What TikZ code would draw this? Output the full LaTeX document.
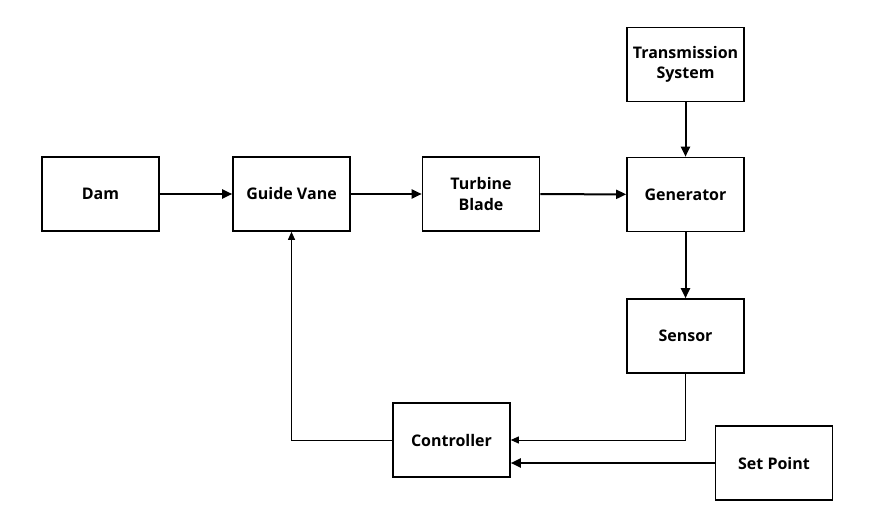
\documentclass[tikz,border=0pt]{standalone}
\usepackage{fontspec}
\setmainfont{Open Sans}
\usetikzlibrary{arrows.meta}
\begin{document}
\begin{tikzpicture}[x=1pt,y=-1pt,
  blk/.style={draw,line width=1.6pt,minimum width=117pt,minimum height=74pt,inner sep=0pt,align=center,font=\bfseries\fontsize{16}{20.5}\selectfont},
  thk/.style={line width=2pt,-{Triangle[length=10pt,width=9pt]}},
  thn/.style={line width=1pt,-{Triangle[length=8pt,width=7pt]}}]
\useasboundingbox (0,0) rectangle (875,518);
\node[blk] (dam) at (100.5,194) {Dam};
\node[blk] (gv) at (291.5,194) {Guide Vane};
\node[blk] (tb) at (481,194) {Turbine\\Blade};
\node[blk] (gen) at (685.5,194.5) {Generator};
\node[blk] (ts) at (685.5,64.5) {Transmission\\System};
\node[blk] (sen) at (685.5,336) {Sensor};
\node[blk] (ctl) at (451.5,440) {Controller};
\node[blk] (sp) at (774,463) {Set Point};
\draw[thk] (dam) -- (gv);
\draw[thk] (gv) -- (tb);
\draw[thk] (tb) -- (gen);
\draw[thk] (ts) -- (gen);
\draw[thk] (gen) -- (sen);
\draw[thn] (sen.south) |- (ctl.east);
\draw[thk] (sp.west) -- (ctl.east |- sp.west);
\draw[thn] (ctl.west) -| (gv.south);
\end{tikzpicture}
\end{document}
